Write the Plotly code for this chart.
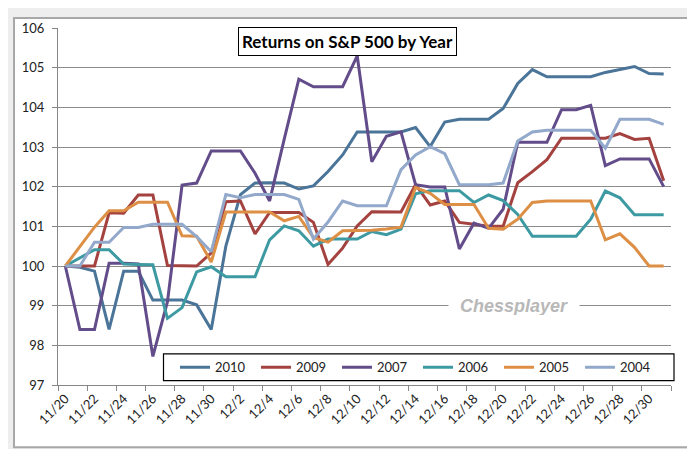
import plotly.graph_objects as go

dates = ["11/20", "11/21", "11/22", "11/23", "11/24", "11/25", "11/26", "11/27", "11/28", "11/29",
         "11/30", "12/1", "12/2", "12/3", "12/4", "12/5", "12/6", "12/7", "12/8", "12/9",
         "12/10", "12/11", "12/12", "12/13", "12/14", "12/15", "12/16", "12/17", "12/18", "12/19",
         "12/20", "12/21", "12/22", "12/23", "12/24", "12/25", "12/26", "12/27", "12/28", "12/29",
         "12/30", "12/31"]

y2010 = [100.0, 99.97, 99.87, 98.4, 99.87, 99.87, 99.14, 99.14, 99.14, 99.02,
         98.4, 100.5, 101.8, 102.09, 102.1, 102.09, 101.94, 102.02, 102.38, 102.8,
         103.38, 103.38, 103.38, 103.38, 103.49, 103.01, 103.63, 103.7, 103.7, 103.7,
         103.97, 104.6, 104.95, 104.77, 104.77, 104.77, 104.77, 104.88, 104.95, 105.03,
         104.85, 104.84]
y2009 = [100.0, 100.0, 100.0, 101.34, 101.33, 101.79, 101.79, 100.01, 100.0, 100.0,
         100.33, 101.62, 101.64, 100.81, 101.35, 101.35, 101.35, 101.1, 100.04, 100.45,
         101.01, 101.37, 101.36, 101.36, 102.05, 101.54, 101.64, 101.1, 101.05, 101.0,
         101.0, 102.1, 102.38, 102.68, 103.22, 103.22, 103.22, 103.22, 103.34, 103.19,
         103.22, 102.15]
y2007 = [100.0, 98.4, 98.4, 100.07, 100.07, 100.05, 97.72, 99.1, 102.04, 102.09,
         102.9, 102.9, 102.9, 102.34, 101.64, 103.2, 104.71, 104.52, 104.52, 104.52,
         105.3, 102.63, 103.27, 103.38, 102.05, 101.99, 101.99, 100.43, 101.08, 100.95,
         101.43, 103.12, 103.12, 103.12, 103.94, 103.94, 104.05, 102.53, 102.7, 102.7,
         102.7, 102.0]
y2006 = [100.0, 100.21, 100.41, 100.41, 100.05, 100.04, 100.03, 98.68, 98.95, 99.85,
         99.98, 99.73, 99.73, 99.73, 100.66, 101.01, 100.89, 100.5, 100.68, 100.68,
         100.68, 100.87, 100.79, 100.93, 101.82, 101.9, 101.9, 101.9, 101.6, 101.79,
         101.65, 101.3, 100.75, 100.75, 100.75, 100.75, 101.18, 101.89, 101.72, 101.29,
         101.29, 101.29]
y2005 = [100.0, 100.5, 100.98, 101.39, 101.39, 101.61, 101.61, 101.61, 100.76, 100.75,
         100.1, 101.36, 101.36, 101.36, 101.36, 101.14, 101.25, 100.72, 100.6, 100.89,
         100.89, 100.9, 100.93, 100.98, 101.98, 101.83, 101.55, 101.55, 101.55, 100.95,
         100.93, 101.18, 101.6, 101.64, 101.64, 101.64, 101.64, 100.66, 100.81, 100.47,
         100.0, 100.0]
y2004 = [100.0, 100.0, 100.6, 100.6, 100.97, 100.97, 101.05, 101.05, 101.05, 100.74,
         100.36, 101.8, 101.72, 101.8, 101.8, 101.8, 101.68, 100.68, 101.11, 101.64,
         101.52, 101.52, 101.52, 102.43, 102.8, 103.01, 102.83, 102.05, 102.05, 102.05,
         102.09, 103.15, 103.38, 103.42, 103.42, 103.42, 103.42, 102.97, 103.7, 103.7,
         103.7, 103.57]

series_names = ["2010", "2009", "2007", "2006", "2005", "2004"]
series_values = [y2010, y2009, y2007, y2006, y2005, y2004]
colors = ["#4A7498", "#A4423F", "#634C8A", "#3E9AA2", "#DD8F45", "#93A9CB"]

title_text = "Returns on S&amp;P 500 by Year"
watermark_text = "Chessplayer"

fig = go.Figure()
for name, vals, col in zip(series_names, series_values, colors):
    fig.add_trace(go.Scatter(x=dates, y=vals, name=name, mode="lines",
                             line=dict(color=col, width=3)))

# plot area: x 50..663 px, y 16..377 px
L, R, T, B = 50, 32, 16, 72
W, H = 695, 449
pw, ph = W - L - R, H - T - B

def px(xp):
    return (xp - L) / pw

def py(yp):
    return (H - B - yp) / ph

shapes = [
    # chart frame
    dict(type="rect", xref="paper", yref="paper", layer="below",
         x0=px(6), x1=px(684), y0=py(440), y1=py(6),
         fillcolor="white", line=dict(color="#A8A8A8", width=2)),
    # legend box
    dict(type="rect", xref="paper", yref="paper", layer="above",
         x0=px(155.5), x1=px(666), y0=py(372.5), y1=py(345.5),
         fillcolor="white", line=dict(color="black", width=1.2)),
]

annotations = [
    dict(text="<b>" + title_text + "</b>", xref="paper", yref="paper",
         x=px(339), y=py(29.5), xanchor="center", yanchor="middle", showarrow=False,
         font=dict(family="Lato, Open Sans, sans-serif", size=17, color="black"),
         bgcolor="white", bordercolor="black", borderwidth=1, borderpad=3),
    dict(text="<b><i>" + watermark_text + "</i></b>", xref="paper", yref="paper",
         x=px(506), y=py(297.3), xanchor="center", yanchor="middle", showarrow=False,
         font=dict(family="Liberation Sans, Arial, sans-serif", size=18, color="#B8B8B8"),
         bgcolor="white", borderpad=0, width=130, height=18),
]

fig.update_layout(
    width=W, height=H,
    margin=dict(l=L, r=R, t=T, b=B),
    paper_bgcolor="#EEEEEE",
    plot_bgcolor="rgba(0,0,0,0)",
    font=dict(family="Lato, Open Sans, sans-serif", size=12, color="#222222"),
    showlegend=True,
    legend=dict(orientation="h", x=px(167), y=py(359), xanchor="left", yanchor="middle",
                bgcolor="rgba(0,0,0,0)", borderwidth=0,
                font=dict(family="Lato, Open Sans, sans-serif", size=13, color="#222222"),
                entrywidth=36, entrywidthmode="pixels", itemwidth=30,
                traceorder="normal"),
    shapes=shapes,
    annotations=annotations,
    xaxis=dict(type="category", categoryorder="array", categoryarray=dates,
               tickmode="linear", tick0=0, dtick=2, tickson="boundaries",
               tickangle=-45, ticks="outside", ticklen=5, tickcolor="#868686",
               showline=True, linecolor="#868686", linewidth=1,
               showgrid=False, range=[-0.5, len(dates) - 0.5],
               tickfont=dict(size=13, color="#222222")),
    yaxis=dict(range=[97, 106], dtick=1, tick0=97, ticks="outside", ticklen=5,
               tickcolor="#868686", showline=True, linecolor="#868686", linewidth=1,
               showgrid=True, gridcolor="#8C8C8C", gridwidth=1, zeroline=False,
               ticklabelstandoff=5,
               tickfont=dict(size=13, color="#222222")),
)

fig.write_html("out.html")
